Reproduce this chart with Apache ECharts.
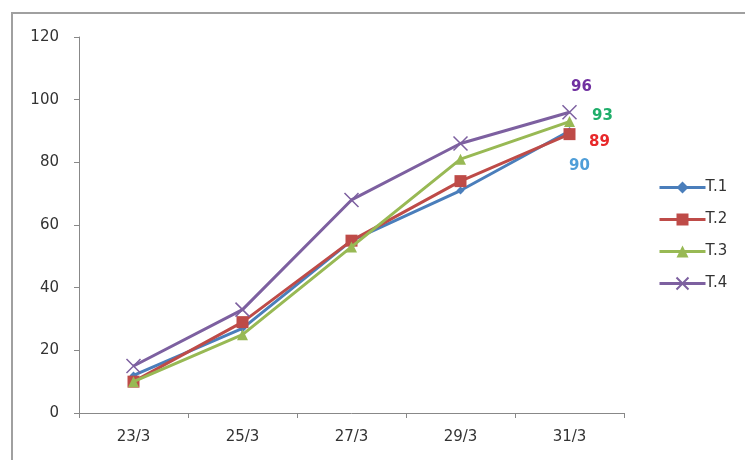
<!DOCTYPE html>
<html><head><meta charset="utf-8">
<script src="https://cdn.jsdelivr.net/npm/echarts@6/dist/echarts.min.js"></script>
<style>html,body{margin:0;padding:0;background:#fff}#c{width:745px;height:460px}</style>
</head><body><div id="c"></div>
<script>
const categories = ['23/3','25/3','27/3','29/3','31/3'];
const seriesNames = ['T.1','T.2','T.3','T.4'];
const t1 = [12, 27, 55, 71, 90];
const t2 = [10, 29, 55, 74, 89];
const t3 = [10, 25, 53, 81, 93];
const t4 = [15, 33, 68, 86, 96];
const yTicks = [0, 20, 40, 60, 80, 100, 120];

const lineColors = ['#4A7EBB', '#BE4B48', '#98B954', '#7D60A0'];
const labelColors = ['#4F9ED8', '#E8282A', '#1FAE6A', '#7030A0'];
const symbols = ['diamond', 'rect', 'triangle', 'path://M0,0L10,10M10,0L0,10'];
const symSizes = [8, 12, 11, 14];
const labelOffsets = [[10, 35], [30, 8], [33, -5], [12, -25]];
const data = [t1, t2, t3, t4];

const chart = echarts.init(document.getElementById('c'));
chart.setOption({
  animation: false,
  backgroundColor: '#fff',
  textStyle: { fontFamily: 'DejaVu Sans' },
  graphic: [{
    type: 'polyline', shape: { points: [[12, 460], [12, 13], [745, 13]] },
    style: { stroke: '#a0a0a0', lineWidth: 2, fill: null }
  }],
  grid: { left: 79, right: 121, top: 37, bottom: 47 },
  legend: {
    orient: 'vertical', left: 653, top: 175, itemGap: 17,
    itemWidth: 46, itemHeight: 15,
    data: seriesNames,
    lineStyle: { width: 3 },
    textStyle: { fontSize: 15, color: '#333', fontFamily: 'DejaVu Sans', padding: [0, 0, 0, -5] }
  },
  xAxis: {
    type: 'category', data: categories, boundaryGap: true,
    axisLine: { lineStyle: { color: '#888' } },
    axisTick: { show: true, alignWithLabel: false, lineStyle: { color: '#888' } },
    axisLabel: { color: '#333', fontSize: 15, margin: 17 }
  },
  yAxis: {
    type: 'value', min: 0, max: 120, interval: 20,
    axisLine: { show: true, lineStyle: { color: '#888' } },
    axisTick: { show: true, lineStyle: { color: '#888' } },
    splitLine: { show: false },
    axisLabel: { color: '#333', fontSize: 15, margin: 20 }
  },
  series: data.map((d, i) => ({
    name: seriesNames[i], type: 'line', data: d,
    symbol: symbols[i], symbolSize: symSizes[i],
    itemStyle: i === 3 ? { color: lineColors[i], borderColor: lineColors[i], borderWidth: 1.5 } : { color: lineColors[i] },
    lineStyle: { color: lineColors[i], width: 3 },
    label: {
      show: true,
      formatter: p => p.dataIndex === d.length - 1 ? String(p.value) : '',
      position: 'inside', offset: labelOffsets[i],
      color: labelColors[i], fontSize: 15, fontWeight: 'bold', fontFamily: 'DejaVu Sans'
    },
    z: 2 + i
  }))
});
</script></body></html>
